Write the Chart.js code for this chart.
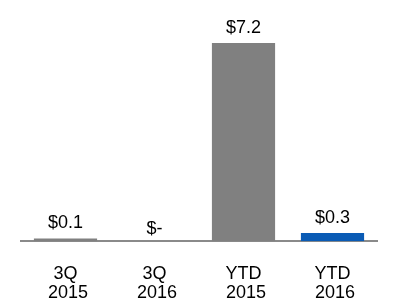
<html>
<head>
<style>
body { margin: 0; background: #fff; }
</style>
<script src="https://cdn.jsdelivr.net/npm/chart.js@4/dist/chart.umd.min.js"></script>
</head>
<body>
<canvas id="myChart" width="400" height="300"></canvas>
<script type="text/javascript">

// values ($ millions)
var categories = [["3Q", " 2015"], ["3Q", " 2016"], ["YTD", " 2015"], ["YTD", " 2016"]];
var values = [0.1, 0, 7.2, 0.3];
var valueLabels = ["$0.1", "$-", "$7.2", "$0.3"];
var barColors = ["#808080", "#808080", "#808080", "#0a5bb5"];

// draws the $ labels above each bar
var valueLabelPlugin = {
	id: "valueLabels",
	afterDatasetsDraw: function(chart){
		var ctx = chart.ctx;
		var meta = chart.getDatasetMeta(0);
		ctx.save();
		ctx.font = "18px 'Liberation Sans', Arial, sans-serif";
		ctx.fillStyle = "#000";
		ctx.textAlign = "center";
		ctx.textBaseline = "alphabetic";
		meta.data.forEach(function(bar, i){
			var y = bar.y - 10;
			if(values[i] == 0) y = bar.y - 7;
			ctx.fillText(valueLabels[i], bar.x, y);
		});
		ctx.restore();
	}
};

new Chart("myChart", {
	type: "bar",
	data: {
		labels: categories,
		datasets: [{
			data: values,
			backgroundColor: barColors,
			borderWidth: 0,
			categoryPercentage: 1,
			barPercentage: 0.71
		}]
	},
	options: {
		responsive: false,
		animation: false,
		devicePixelRatio: 1,
		layout: { padding: { top: 21, left: 21, right: 23, bottom: -25 } },
		plugins: { legend: { display: false }, tooltip: { enabled: false } },
		scales: {
			x: {
				grid: { display: false, drawTicks: false },
				border: { display: true, color: "#8a8a8a", width: 2 },
				ticks: {
					color: "#000",
					padding: 23,
					maxRotation: 0,
					font: { family: "'Liberation Sans', Arial, sans-serif", size: 18, lineHeight: 1.05 }
				}
			},
			y: {
				display: false,
				min: 0,
				max: 8
			}
		}
	},
	plugins: [valueLabelPlugin]
});
</script>
</body>
</html>
